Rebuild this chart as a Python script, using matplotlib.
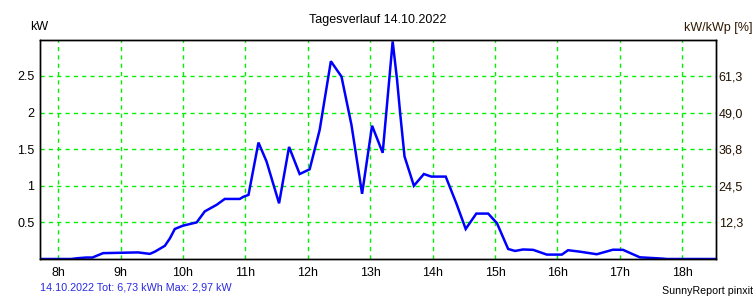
import matplotlib
matplotlib.use("Agg")
import matplotlib.pyplot as plt

plt.rcParams['font.family'] = ['Liberation Sans', 'DejaVu Sans']

# time of day in hours, power in kW
hours = [7.70, 8.21, 8.30, 8.45, 8.55, 8.72, 9.28, 9.47, 9.55, 9.71, 9.79,
         9.87, 10.00, 10.22, 10.35, 10.54, 10.67, 10.91, 10.97, 11.05,
         11.21, 11.34, 11.54, 11.70, 11.87, 12.03, 12.19, 12.37, 12.54,
         12.70, 12.87, 13.03, 13.20, 13.36, 13.43, 13.48, 13.55, 13.70,
         13.86, 13.98, 14.21, 14.38, 14.53, 14.70, 14.89, 15.03, 15.21,
         15.32, 15.45, 15.61, 15.83, 16.07, 16.17, 16.36, 16.63, 16.89,
         17.05, 17.32, 17.69, 17.75, 18.54]
kw = [0.0, 0.0, 0.01, 0.02, 0.02, 0.08, 0.09, 0.07, 0.10, 0.18, 0.28,
      0.41, 0.455, 0.50, 0.65, 0.74, 0.82, 0.82, 0.85, 0.875,
      1.59, 1.33, 0.76, 1.53, 1.16, 1.225, 1.76, 2.70, 2.49,
      1.83, 0.89, 1.82, 1.45, 2.97, 2.45, 1.99, 1.40, 1.00,
      1.16, 1.125, 1.125, 0.76, 0.41, 0.62, 0.62, 0.49, 0.137,
      0.11, 0.13, 0.125, 0.06, 0.06, 0.12, 0.10, 0.065, 0.127,
      0.125, 0.023, 0.005, 0.0, 0.0]

kwp = 4.08
kw_ticks = [0.5, 1, 1.5, 2, 2.5]
kw_labels = ['0.5', '1', '1.5', '2', '2.5']
hour_ticks = [8, 9, 10, 11, 12, 13, 14, 15, 16, 17, 18]
hour_labels = [f'{h}h' for h in hour_ticks]

fig = plt.figure(figsize=(7.56, 3.0), dpi=100)
ax = fig.add_axes([40/756, 41/300, 676/756, 219/300])

ax.plot(hours, kw, color='#0000ff', lw=1.8, solid_joinstyle='miter')
ax.set_xlim(7.71, 18.54)
ax.set_ylim(0, 2.99)

ax.set_xticks(hour_ticks)
ax.set_xticklabels(hour_labels)
ax.set_yticks(kw_ticks)
ax.set_yticklabels(kw_labels)
ax.tick_params(length=0, labelsize=9, colors='#000000')
ax.tick_params(axis='x', pad=6)
ax.tick_params(axis='y', pad=4)
ax.grid(True, color='#00f000', ls=(0, (3, 3)), lw=1)
for s in ax.spines.values():
    s.set_linewidth(1)

ax2 = ax.twinx()
ax2.set_ylim(ax.get_ylim())
ax2.set_yticks(kw_ticks)
ax2.set_yticklabels([f'{v / kwp * 100:.1f}'.replace('.', ',') for v in kw_ticks])
ax2.tick_params(length=0, labelsize=9, labelcolor='#201000', pad=2)
for s in ax2.spines.values():
    s.set_linewidth(1)

fig.text(0.5, 0.935, 'Tagesverlauf 14.10.2022', ha='center', va='center', fontsize=9)
fig.text(30/756, 0.91, 'kW', ha='left', va='center', fontsize=9)
fig.text(753/756, 0.905, 'kW/kWp [%]', ha='right', va='center', fontsize=9, color='#2e1800')
fig.text(40/756, 12/300, '14.10.2022 Tot: 6,73 kWh Max: 2,97 kW', ha='left', va='center',
         fontsize=7.75, color='#2a2ae0')
fig.text(753/756, 9/300, 'SunnyReport pinxit', ha='right', va='center', fontsize=7.7)

fig.savefig('out.png', dpi=100)
